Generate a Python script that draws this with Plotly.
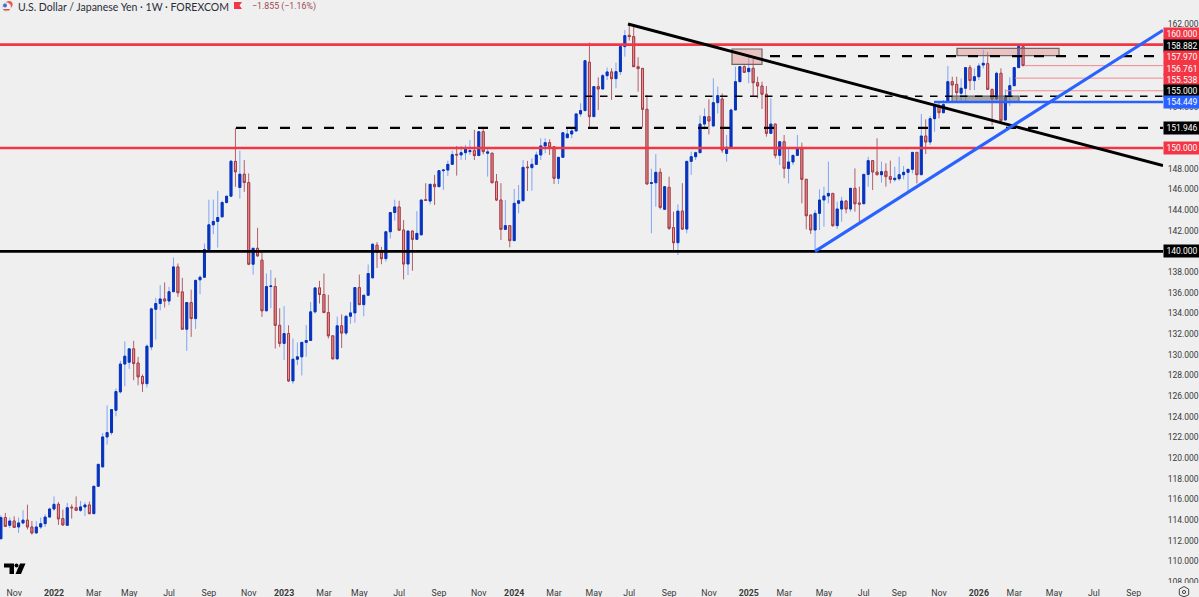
import pandas as pd
import plotly.graph_objects as go

open_prices = [
    112.2,114.25,113.5,113.92,113.34,113.73,114.0,113.34,112.76,113.34,
    113.66,114.3,115.08,115.53,114.15,113.5,115.25,115.2,114.95,115.28,
    115.47,114.63,117.28,119.15,122.05,122.47,124.63,126.41,129.1,129.28,
    130.57,129.2,127.9,127.2,130.76,134.4,134.96,135.4,135.2,136.1,
    138.5,136.08,132.47,135.05,133.5,137.25,137.5,140.18,142.57,142.9,
    143.34,144.73,145.34,148.7,146.18,147.47,146.66,138.76,140.3,139.15,
    134.25,136.6,136.6,132.85,131.1,132.05,127.47,129.57,129.8,131.2,
    131.38,134.15,136.47,135.83,134.08,131.83,129.6,132.8,132.1,133.73,
    134.05,136.5,134.85,135.76,137.44,140.6,140.05,139.3,141.9,143.76,
    144.3,142.07,138.78,141.97,141.17,141.6,145.0,144.87,146.49,146.26,
    147.81,147.87,148.42,149.39,149.33,149.55,149.65,149.75,149.27,151.58,
    149.5,149.5,146.74,144.97,142.13,142.49,141.04,144.65,144.9,148.16,
    148.1,148.42,149.33,150.2,150.52,150.13,147.07,149.1,151.0,151.36,
    151.65,153.3,153.62,158.3,153.04,155.94,155.71,157.0,157.36,156.71,
    157.39,159.81,160.9,160.78,157.87,157.7,153.75,146.58,146.64,147.65,
    144.07,146.2,142.29,140.84,143.9,142.16,148.71,149.16,149.55,152.32,
    153.03,152.13,154.39,154.74,149.48,150.07,153.68,156.42,157.87,157.39,
    157.71,156.32,156.0,155.2,151.42,152.32,149.29,150.61,148.03,148.65,
    149.29,149.9,146.97,143.52,142.07,143.68,144.97,145.36,145.61,142.49,
    144.1,144.87,144.1,146.1,144.68,144.61,147.45,148.78,147.68,147.42,
    147.74,147.23,146.94,147.03,147.42,147.65,147.94,149.58,147.42,151.16,
    150.58,152.84,154.0,153.42,154.49,156.42,156.16,155.3,155.78,157.78,
    156.52,156.9,158.03,158.16,155.68,154.74,157.23,152.71,155.03,156.03,
    157.78,159.81,
]
high_prices = [
    114.47,114.7,114.25,114.37,114.25,114.96,115.5,113.92,113.92,114.25,
    114.57,115.2,116.3,115.76,115.02,115.66,115.53,116.3,115.86,115.73,
    115.8,117.28,119.4,122.44,125.1,124.7,126.73,129.4,131.3,130.57,
    131.35,129.8,128.1,131.0,134.57,135.5,136.73,137.0,136.57,139.4,
    138.83,137.44,135.05,136.3,137.2,137.67,140.76,145.0,145.0,145.86,
    144.9,145.34,148.73,151.95,149.73,148.83,147.54,140.3,142.28,140.0,
    137.86,138.2,137.44,134.5,134.7,132.85,131.57,131.2,131.2,132.87,
    135.1,136.47,137.15,137.86,135.8,131.83,133.7,133.9,133.73,135.1,
    136.5,137.76,135.76,138.73,140.7,140.9,140.44,141.9,143.76,145.0,
    144.9,143.03,141.97,141.97,143.9,144.97,146.6,146.49,147.4,147.81,
    147.97,148.78,149.75,150.2,150.2,150.3,150.78,151.75,151.58,152.07,
    149.97,149.5,147.49,146.6,144.97,142.49,146.04,146.42,148.84,148.75,
    149.0,149.65,150.94,150.94,150.84,150.13,149.1,151.48,151.9,151.97,
    153.3,154.33,158.45,160.2,155.94,156.84,157.16,157.78,157.71,158.26,
    159.81,161.42,161.95,161.9,158.78,157.7,155.13,148.0,149.42,148.03,
    146.26,147.23,143.84,144.55,146.6,148.71,149.65,149.65,153.16,153.84,
    154.71,156.74,155.94,155.29,151.26,153.81,157.87,157.87,158.0,159.0,
    158.9,156.9,156.42,156.0,154.81,152.32,150.61,151.26,150.07,149.29,
    151.26,150.52,146.97,143.52,144.0,146.0,146.26,148.68,145.61,144.81,
    145.29,144.97,146.1,148.03,146.26,147.45,149.16,148.78,150.94,148.68,
    148.52,148.78,148.2,149.16,148.26,147.94,149.58,149.58,153.29,152.77,
    153.1,154.13,154.48,154.65,157.94,156.9,156.9,156.74,157.78,158.03,
    157.7,158.2,159.5,159.26,155.68,157.39,157.71,155.68,156.84,157.78,
    159.81,159.97,
]
low_prices = [
    112.2,113.35,113.25,113.27,112.76,113.6,113.1,112.6,112.76,113.15,
    113.34,114.25,114.9,113.54,113.47,113.47,114.15,114.9,114.8,114.4,
    114.57,114.57,117.28,119.15,121.3,122.25,124.05,126.25,126.96,128.63,
    127.54,127.05,126.4,126.83,130.44,131.47,134.3,134.57,134.8,136.1,
    135.6,132.47,130.37,131.73,132.5,135.86,137.5,140.18,141.67,140.37,
    143.28,144.63,145.3,146.25,145.1,145.76,138.66,137.76,139.47,133.66,
    134.25,134.5,130.6,130.76,129.5,127.37,127.2,129.0,128.0,129.8,
    131.38,133.98,134.96,134.08,131.57,129.6,129.6,130.66,131.9,133.0,
    133.1,134.8,133.73,135.76,137.44,138.4,138.76,139.0,141.25,142.96,
    142.05,137.29,137.71,138.13,141.17,141.6,144.94,144.55,144.49,146.26,
    145.94,147.3,148.36,147.33,148.84,148.84,149.32,148.84,149.27,149.39,
    147.23,146.64,144.87,141.1,142.13,140.39,141.04,143.68,144.9,145.84,
    145.87,148.36,148.84,149.5,149.33,146.52,146.52,149.1,151.0,150.94,
    151.65,153.04,153.62,152.0,153.04,153.68,155.71,156.58,154.65,155.78,
    157.07,158.84,160.39,157.87,155.45,152.0,146.52,141.75,144.33,144.07,
    144.0,142.07,139.94,139.65,142.07,141.75,147.39,148.84,149.55,151.8,
    151.32,152.13,153.35,149.55,148.68,150.07,153.68,156.42,157.32,156.26,
    155.03,154.81,153.78,151.1,151.36,149.0,148.36,147.07,146.58,148.36,
    149.23,144.65,142.13,141.68,139.97,142.07,142.39,144.65,142.39,142.16,
    142.87,143.68,143.84,143.84,142.71,144.61,146.26,145.94,147.36,146.65,
    146.26,146.58,146.74,146.84,146.97,145.61,147.55,146.58,147.42,149.42,
    150.29,151.58,152.87,153.35,154.49,154.97,154.49,154.49,154.49,155.6,
    155.6,156.58,157.7,155.62,152.2,154.65,152.33,152.71,154.07,156.03,
    157.78,157.97,
]
close_prices = [
    114.25,113.4,113.92,113.3,113.73,114.0,113.34,112.76,113.34,113.66,
    114.3,115.08,115.53,114.12,113.54,115.2,115.2,114.95,115.28,115.47,
    114.63,117.28,119.4,122.05,122.47,124.7,126.44,129.1,129.86,130.57,
    129.15,127.86,127.2,130.83,134.44,134.96,135.4,135.2,136.1,138.5,
    136.0,132.47,135.05,133.5,137.2,137.5,140.18,142.57,142.9,143.28,
    144.73,145.34,148.73,147.7,147.47,146.66,138.76,140.3,139.57,134.25,
    136.6,136.65,132.85,131.1,132.05,127.47,129.57,129.8,131.2,131.38,
    134.15,136.47,135.83,134.08,131.83,129.6,132.8,132.1,133.73,134.05,
    136.5,134.85,135.76,137.86,140.7,139.92,139.3,141.9,143.76,144.3,
    142.05,138.78,141.97,141.17,141.74,144.97,144.94,146.49,146.26,147.81,
    147.87,148.42,149.36,149.33,149.55,149.87,149.75,149.27,151.58,149.65,
    149.62,146.64,144.97,142.13,142.49,141.04,144.65,144.9,148.13,148.1,
    148.42,149.33,150.2,150.52,150.07,147.07,149.1,151.48,151.36,151.65,
    153.3,153.62,158.45,153.04,155.94,155.71,157.0,157.36,156.71,157.39,
    159.81,160.87,160.78,157.87,157.68,153.75,146.52,146.64,147.65,144.26,
    146.26,142.23,140.84,143.9,142.16,148.71,149.16,149.55,152.32,153.03,
    152.61,154.39,155.07,149.81,150.07,153.68,156.42,157.87,157.32,157.71,
    156.32,156.0,155.2,151.42,152.32,149.29,150.61,148.03,148.65,149.29,
    149.9,146.97,143.45,142.07,143.68,144.97,145.36,145.61,142.49,144.1,
    144.87,144.1,146.1,144.61,144.58,147.45,148.78,147.68,147.42,147.71,
    147.23,146.97,147.07,147.42,147.65,147.94,149.58,147.42,151.16,150.58,
    152.84,154.13,153.42,154.2,156.42,156.1,155.36,155.78,157.78,156.52,
    156.9,157.94,158.2,155.68,154.74,157.23,152.65,155.03,156.03,157.78,
    159.81,157.97,
]

tick_dates = ['2021-11-01','2022-01-03','2022-03-07','2022-05-02','2022-07-04','2022-09-05','2022-11-07',
              '2023-01-02','2023-03-06','2023-05-01','2023-07-03','2023-09-04','2023-11-06',
              '2024-01-01','2024-03-04','2024-05-06','2024-07-01','2024-09-02','2024-11-04',
              '2025-01-06','2025-03-03','2025-05-05','2025-07-07','2025-09-01','2025-11-03',
              '2026-01-05','2026-03-02','2026-05-04','2026-07-06','2026-09-07']
tick_names = ['Nov','<b>2022</b>','Mar','May','Jul','Sep','Nov',
              '<b>2023</b>','Mar','May','Jul','Sep','Nov',
              '<b>2024</b>','Mar','May','Jul','Sep','Nov',
              '<b>2025</b>','Mar','May','Jul','Sep','Nov',
              '<b>2026</b>','Mar','May','Jul','Sep']
price_ticks = list(range(108, 166, 2))

# levels drawn across the chart and their tags on the price scale
level_prices = [160.0, 158.882, 157.97, 156.761, 155.538, 155.0, 154.449, 151.946, 150.0, 140.0]
level_colors = ['#f23645', '#000000', '#f23645', '#f23645', '#f23645', '#000000', '#2962ff', '#000000', '#f23645', '#000000']
level_shift = [10.7, 9.9, 8.3, 9.3, 10.5, 5.2, 0, 0, 0, 0]

W, H = 1199, 597
PLOT_W, PLOT_H = 1163, 583
BAR_STEP = 4.425
BAR_ZERO = 0.9
SCALE_FONT = 'Roboto'
first_week = pd.Timestamp('2021-10-11')
weeks = pd.date_range(first_week, periods=len(open_prices), freq='7D')


def week_at(px):
    return first_week + pd.Timedelta(weeks=(px - BAR_ZERO) / BAR_STEP)


def paper_x(px):
    return px / PLOT_W


def paper_y(py):
    return 1 - py / PLOT_H


body_top = [max(o, c) for o, c in zip(open_prices, close_prices)]
body_low = [min(o, c) for o, c in zip(open_prices, close_prices)]

fig = go.Figure()
fig.add_trace(go.Candlestick(
    x=weeks, open=open_prices, high=high_prices, low=low_prices, close=close_prices,
    increasing=dict(line=dict(color='#7ea4f7', width=1), fillcolor='#7ea4f7'),
    decreasing=dict(line=dict(color='#b0606a', width=1), fillcolor='#b0606a'),
    whiskerwidth=0, showlegend=False))
fig.add_trace(go.Candlestick(
    x=weeks, open=open_prices, high=body_top, low=body_low, close=close_prices,
    increasing=dict(line=dict(color='#0833bb', width=1), fillcolor='#0833bb'),
    decreasing=dict(line=dict(color='#a63c46', width=1), fillcolor='#ec9696'),
    whiskerwidth=0, showlegend=False))

shapes = []


def hline(price, start_px, color, width, dash='solid'):
    shapes.append(dict(type='line', xref='x', yref='y', x0=week_at(start_px), x1=week_at(PLOT_W),
                       y0=price, y1=price, line=dict(color=color, width=width, dash=dash)))


def box(x0, x1, low, top, fill):
    shapes.append(dict(type='rect', xref='x', yref='y', x0=week_at(x0), x1=week_at(x1), y0=low, y1=top,
                       fillcolor=fill, line=dict(color='#6e6464', width=1.2)))


box(732, 762, 158.1, 159.58, 'rgba(228,140,140,0.45)')
box(957, 1059, 158.94, 159.64, 'rgba(228,140,140,0.45)')
box(952, 1019, 154.45, 155.03, 'rgba(120,120,120,0.6)')

hline(160.0, 0, '#f23645', 2.6)
hline(150.0, 0, '#f23645', 2.6)
hline(140.0, 0, '#000000', 2.8)
hline(158.882, 770, '#000000', 2.2, '10px,12px')
hline(155.0, 405, '#000000', 1.5, '7.5px,7.5px')
hline(151.946, 236, '#000000', 2.2, '10px,12px')
hline(154.449, 934, '#2962ff', 2.5)
hline(157.97, 1024, '#f28a92', 1)
hline(156.761, 1015, '#f28a92', 1)
hline(155.538, 1006, '#f28a92', 1)

# trend lines
shapes.append(dict(type='line', xref='x', yref='y', x0=week_at(628), x1=week_at(PLOT_W), y0=162.0, y1=148.3,
                   line=dict(color='#000000', width=3)))
shapes.append(dict(type='line', xref='x', yref='y', x0=week_at(815), x1=week_at(PLOT_W), y0=140.0, y1=161.4,
                   line=dict(color='#2962ff', width=3)))

# bottom right corner hides the lower half of the last tick label
shapes.append(dict(type='rect', xref='paper', yref='paper', x0=paper_x(1163), x1=paper_x(W),
                   y0=paper_y(583), y1=paper_y(H), fillcolor='#efefef', line=dict(width=0)))


def icon(path, fill, line='rgba(0,0,0,0)', width=0):
    shapes.append(dict(type='path', xref='paper', yref='paper', path=path, fillcolor=fill,
                       line=dict(color=line, width=width)))


def pts(points):
    return 'M ' + ' L '.join(f'{paper_x(a):.5f},{paper_y(b):.5f}' for a, b in points) + ' Z'


def disc(cx, cy, r, fill, line_color=None):
    shapes.append(dict(type='circle', xref='paper', yref='paper', x0=paper_x(cx - r), x1=paper_x(cx + r),
                       y0=paper_y(cy + r), y1=paper_y(cy - r), fillcolor=fill,
                       line=dict(color=line_color or fill, width=1 if line_color else 0)))


# tradingview logo
icon(pts([(4, 563.5), (14, 563.5), (14, 574), (9.5, 574), (9.5, 567.5), (4, 567.5)]), '#000000')
disc(16.5, 565.5, 2, '#000000')
icon(pts([(20, 563.5), (25.5, 563.5), (21, 574), (15.5, 574)]), '#000000')

# pair flags and delayed data marker in the header
disc(9, 4.5, 3.6, '#ef5350')
disc(6.5, 7, 4.2, '#f4f4f4', '#d8d8d8')
disc(5, 5.5, 2, '#3f6fd8')
icon(pts([(3, 9), (10, 9), (9, 10.5), (4, 10.5)]), '#e5484d')
icon(pts([(234, 2), (242, 2), (239.5, 5.5), (242, 9), (234, 9)]), '#f23645')

# settings button
icon(pts([(1184, 586.5), (1188.7, 589.2), (1188.7, 594.8), (1184, 596.8), (1179.3, 594.8), (1179.3, 589.2)]),
     'rgba(0,0,0,0)', '#444444', 1)
disc(1184, 592, 1.6, 'rgba(0,0,0,0)', '#444444')

annotations = []
for price, color, shift in zip(level_prices, level_colors, level_shift):
    annotations.append(dict(xref='paper', yref='y', x=1, y=price, yshift=shift, xanchor='left', yanchor='middle',
                            text=f'{price:.3f}', showarrow=False, bgcolor=color, width=36, height=11.6,
                            borderpad=0, align='center', font=dict(color='#ffffff', size=8.5, family=SCALE_FONT)))
annotations.append(dict(xref='paper', yref='paper', x=paper_x(17), y=paper_y(6.5), xanchor='left', yanchor='middle',
                        text='U.S. Dollar / Japanese Yen · 1W · FOREXCOM', showarrow=False, borderpad=0,
                        font=dict(color='#2a2e39', size=10.5, family='Lato')))
annotations.append(dict(xref='paper', yref='paper', x=paper_x(251), y=paper_y(6.5), xanchor='left', yanchor='middle',
                        text='−1.855 (−1.16%)', showarrow=False, borderpad=0,
                        font=dict(color='#a0474f', size=8.8, family=SCALE_FONT)))

fig.update_layout(
    width=W, height=H,
    margin=dict(l=0, r=W - PLOT_W, t=0, b=H - PLOT_H),
    plot_bgcolor='#efefef', paper_bgcolor='#efefef',
    boxgap=0.36,
    showlegend=False,
    shapes=shapes,
    annotations=annotations,
    font=dict(family=SCALE_FONT, size=8.5, color='#3a3a3a'),
)
fig.update_xaxes(
    type='date', range=[week_at(0), week_at(PLOT_W)], rangeslider_visible=False, automargin=False,
    tickvals=tick_dates, ticktext=tick_names, tickangle=0, showgrid=False, zeroline=False, showline=False,
    ticks='outside', ticklen=1, tickcolor='#efefef', tickfont=dict(size=8.8),
)
fig.update_yaxes(
    side='right', range=[107.92, 164.32], tickvals=price_ticks, automargin=False,
    ticktext=[f'{t:.3f}' for t in price_ticks], showgrid=False, zeroline=False, showline=False,
    ticks='outside', ticklen=2, tickcolor='#efefef',
)

fig.write_html('out.html', config=dict(displayModeBar=False),
               post_script="document.body.style.margin='0';document.body.style.overflow='hidden';")
